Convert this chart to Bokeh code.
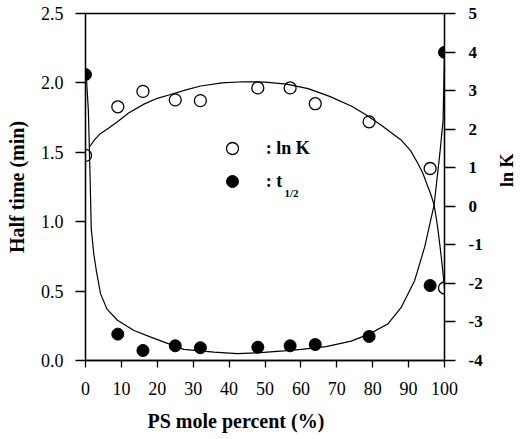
import math
from bokeh.plotting import figure
from bokeh.models import (Range1d, LinearAxis, FixedTicker, NumeralTickFormatter,
                          CustomJSTickFormatter, Label, Legend, LegendItem, Title)
from bokeh.embed import file_html
from bokeh.resources import INLINE

# ---- data ----
ps_mole = [0, 9, 16, 25, 32, 48, 57, 64, 79, 96, 100]
half_time = [2.06, 0.19, 0.072, 0.106, 0.092, 0.096, 0.106, 0.115, 0.173, 0.54, 2.22]
ln_k = [1.32, 2.58, 2.98, 2.76, 2.74, 3.07, 3.07, 2.66, 2.19, 0.98, -2.12]

# fitted curves
fit_t_x = [0.2, 0.8, 1.3, 1.6, 2.3, 3.0, 4.2, 6.0, 8.9, 13.5, 18.2, 21.9, 27.4, 35.8,
           42.3, 47.8, 55.3, 60.1, 67, 74, 79, 84.3, 88, 91.7, 94.5, 97.1, 98.7, 99.6, 100]
fit_t_y = [2.06, 1.8, 1.3, 0.95, 0.77, 0.65, 0.48, 0.37, 0.29, 0.216, 0.168, 0.132, 0.08,
           0.06, 0.05, 0.055, 0.07, 0.08, 0.1, 0.14, 0.19, 0.265, 0.385, 0.577, 0.82, 1.12,
           1.49, 1.73, 2.22]
fit_k_x = [1.2, 2.5, 4.2, 6.5, 9, 12, 16.3, 20, 23.7, 28, 32.1, 38, 44, 50, 56, 62, 68,
           74, 78, 82.4, 85, 88, 90.5, 92.6, 94, 95.4, 96.3, 97.1, 97.7, 98.2, 98.7, 99.2,
           99.6, 100]
fit_k_y = [1.55, 1.72, 1.89, 2.03, 2.2, 2.42, 2.65, 2.8, 2.9, 3.02, 3.12, 3.2, 3.23, 3.22,
           3.17, 3.05, 2.85, 2.6, 2.38, 2.1, 1.92, 1.71, 1.45, 1.11, 0.85, 0.5, 0.28, 0.03,
           -0.3, -0.62, -1.0, -1.4, -1.75, -2.14]

x_ticks = [0, 10, 20, 30, 40, 50, 60, 70, 80, 90, 100]
left_ticks = [0.0, 0.5, 1.0, 1.5, 2.0, 2.5]
right_ticks = [-4, -3, -2, -1, 0, 1, 2, 3, 4, 5]

x_title = "PS mole percent (%)"
left_title = "Half time (min)"
right_title = "ln K"
legend_labels = [": ln K", ": t"]
legend_sub = "1/2"

SERIF = "Liberation Serif"

p = figure(frame_width=359, frame_height=347,
           min_border_left=85, min_border_right=78, min_border_top=13, min_border_bottom=79,
           x_range=Range1d(0, 100), y_range=Range1d(0, 2.5),
           output_backend="svg", toolbar_location=None)
p.extra_y_ranges = {"lnk": Range1d(-4, 5)}
p.grid.visible = False
p.outline_line_color = "black"
p.outline_line_width = 1.3
p.background_fill_color = "white"
p.border_fill_color = "white"

# bottom axis
xa = p.xaxis[0]
xa.ticker = FixedTicker(ticks=x_ticks)
xa.major_tick_in = 0
xa.major_tick_out = 7
xa.minor_tick_line_color = None
xa.major_label_standoff = 14
# left axis
ya = p.yaxis[0]
ya.ticker = FixedTicker(ticks=left_ticks)
ya.formatter = NumeralTickFormatter(format="0.0")
ya.major_tick_in = 0
ya.major_tick_out = 10
ya.minor_tick_line_color = None
ya.major_label_standoff = 12
ya.axis_label = left_title
ya.axis_label_standoff = 10
# right axis
ra = LinearAxis(y_range_name="lnk", ticker=FixedTicker(ticks=right_ticks),
                formatter=CustomJSTickFormatter(code="return tick.toString();"))
ra.major_tick_in = 0
ra.major_tick_out = 11
ra.minor_tick_line_color = None
ra.major_label_standoff = 13
ra.axis_label = right_title
ra.axis_label_standoff = 21
if "axis_label_orientation" in LinearAxis.properties():
    ra.axis_label_orientation = math.pi / 2
p.add_layout(ra, "right")

for ax in (xa, ya, ra):
    ax.axis_line_width = 1.3
    ax.axis_line_color = "black"
    ax.major_tick_line_width = 1.3
    ax.major_tick_line_color = "black"
    ax.major_label_text_font = SERIF
    ax.major_label_text_font_size = "18px"
    ax.major_label_text_color = "black"
    ax.axis_label_text_font = SERIF
    ax.axis_label_text_font_style = "bold"
    ax.axis_label_text_font_size = "20px"
    ax.axis_label_text_color = "black"
ra.major_label_text_font_style = "bold"
ra.major_label_text_font_size = "17px"
ra.axis_label_text_font_size = "18px"

# x-axis title (placed left of centre as in the original)
p.add_layout(Title(text=x_title, align="left", offset=62, standoff=21,
                   text_font=SERIF, text_font_style="bold", text_font_size="20px",
                   text_color="black"), "below")

# curves
p.line(fit_t_x, fit_t_y, line_color="black", line_width=1.2)
p.line(fit_k_x, fit_k_y, y_range_name="lnk", line_color="black", line_width=1.2)

# points
r_open = p.scatter(ps_mole, ln_k, y_range_name="lnk", marker="circle", size=12,
                   fill_color=None, line_color="black", line_width=1.3)
r_fill = p.scatter(ps_mole, half_time, marker="circle", size=12,
                   fill_color="black", line_color="black")

legend = Legend(items=[LegendItem(label=legend_labels[0], renderers=[r_open]),
                       LegendItem(label=legend_labels[1], renderers=[r_fill])],
                location=(131.7, 163.7), padding=0, margin=0, spacing=3,
                glyph_width=30, glyph_height=30, label_height=30, label_standoff=19,
                border_line_color=None, background_fill_alpha=0,
                label_text_font=SERIF, label_text_font_style="bold",
                label_text_font_size="18px", label_text_color="black")
p.add_layout(legend)

p.add_layout(Label(x=199, y=168, x_units="screen", y_units="screen", text=legend_sub,
                   text_font=SERIF, text_font_style="bold", text_font_size="11px",
                   text_color="black", text_baseline="middle", text_align="left"))

open("out.html", "w").write(file_html(p, INLINE))
